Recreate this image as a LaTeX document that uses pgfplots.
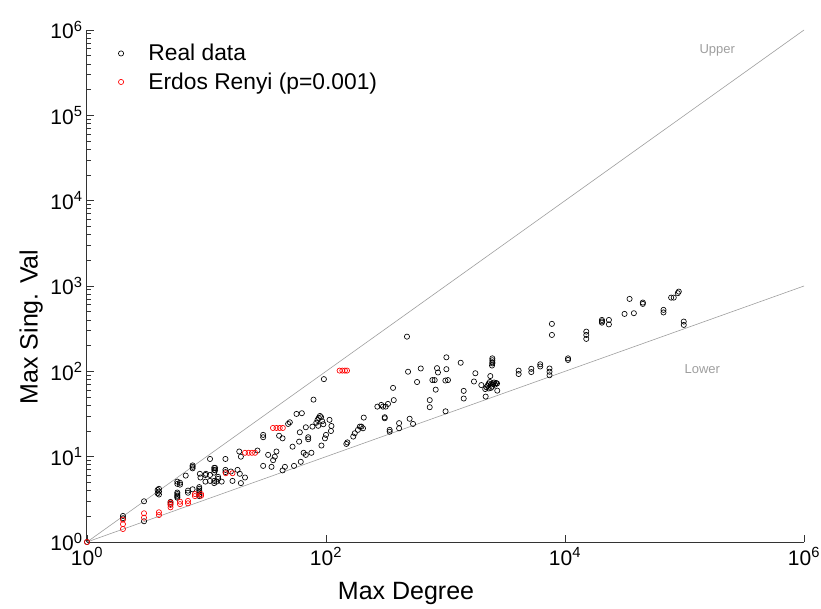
\documentclass[border=0pt]{standalone}
\usepackage{fontspec}
\setmainfont{Liberation Sans}
\usepackage{pgfplots}
\pgfplotsset{compat=1.18}

\definecolor{guide}{gray}{0.62}
\definecolor{axgray}{gray}{0.2}

% measured maximum degree vs. maximum singular value
\pgfplotstableread{
x y
1 1
2 2.02
2 1.9
3 3.0
3 1.75
4 4.2
4 3.9
4 3.6
3.9 4.07
3.9 3.72
5 2.95
5 2.8
5.7 5.1
5.7 4.8
6 4.95
6 4.7
5.7 3.8
5.7 3.65
5.7 3.5
5.7 3.4
5.7 3.3
7 4.0
7 3.78
6.7 6.0
7.65 7.9
7.65 7.6
7.65 7.3
7.65 4.15
8.7 4.4
8.7 4.2
8.7 4.0
8.7 3.8
8.7 3.6
8.7 3.45
8.8 6.3
8.9 5.7
9.9 6.3
9.8 6.1
9.8 5.1
10.7 9.4
10.7 6.1
10.7 5.2
11.6 7.4
11.6 7.0
11.6 6.5
11.6 5.2
11.6 4.9
11.8 7.4
11.8 6.9
12.5 5.8
12.5 5.5
12.1 5.1
13.4 5.1
14.4 9.4
14.4 7.0
14.4 6.6
16 6.7
16.5 5.2
18.2 7.0
19 6.3
21 5.7
19.4 4.9
18.8 11.5
19.4 10
26.7 11.8
29.8 18
29.8 16.9
29.8 7.8
32.8 10.5
35 7.6
36.1 9.1
37.3 10
38.5 11.5
40.5 17.6
43.3 16.4
43.3 6.9
45.3 7.6
48.2 24.2
49.8 25.3
52.5 13.1
54 7.8
56.6 31.7
62.8 32.3
59.6 15
60.4 19.3
61.5 8.7
65 11.1
67.8 10.5
67.8 22.1
71 16.9
71 16
75.5 11.1
77 22.5
78.6 46.6
83 25
85 27
87 28.5
89 30
91 29
93 26
95 24
86 23
91.6 13.5
96 81
98 16.4
100 18
107 27
110 20
111 22.9
148 14.1
151 14.7
169 17.2
174 18.8
185 20.6
192 22.5
198 22.5
204 21.5
207 28.7
269 38.6
290 40.4
300 38.6
316 38.6
330 41.5
310 28.2
310 29
341 20.6
341 19.6
364 64
369 46
409 24.7
409 21.5
501 27.8
535 24.2
476 255
486 99
621 108
578 75
738 46
738 38
777 79
812 79
828 61
849 109
865 97
998 78
1017 106
1049 79
1001 34
1017 146
1340 126
1420 59
1420 48
1778 95
1730 76
1995 69
2168 50.6
2371 88
2466 142
2466 135
2466 128
2450 117
2466 124
2150 62
2200 65
2250 68
2300 72
2350 75
2400 70
2450 66
2500 72
2550 74
2600 70
2650 73
2700 72
2300 63
2400 64
2710 59.4
4093 102
4093 93
5224 107
5224 98
6206 121
6206 114
7420 108
7420 99
7420 90
7770 360
7770 267
10600 142
10600 136
15070 292
15070 267
15070 240
20370 400
20370 385
20370 372
23300 400
23300 355
31500 471
37700 480
34700 706
44800 640
44800 617
66700 525
66700 490
77300 731
81300 731
87900 824
89600 860
98600 383
98600 350
}\realdata

% random graphs, G(n, p) with p = 0.001
\pgfplotstableread{
x y
1 1
2 1.42
2 1.62
2 1.83
3 2.17
3 1.93
4 2.23
4 2.07
5 2.9
5 2.72
5 2.55
6 2.97
6 2.78
7 3.03
7 2.84
8 3.65
8 3.45
9 3.65
9 3.48
14.5 6.4
16.5 6.4
21 11.1
22.5 11.1
24 11.1
25.5 11.1
36 21.7
38.5 21.7
41 21.7
43.5 21.7
130 102
137 102
144 102
150 102
}\erdosrenyi

\tikzset{tickc/.style={axgray, line width=0.9pt}}

\begin{document}
\begin{tikzpicture}
\useasboundingbox (-87pt,-66pt) rectangle (734pt,542pt);
\begin{axis}[
  at={(0pt,0pt)}, anchor=south west,
  scale only axis, width=717pt, height=512pt,
  xmode=log, ymode=log,
  xmin=1, xmax=1e6, ymin=1, ymax=1e6,
  clip=false,
  axis x line*=bottom, axis y line*=left,
  axis line style={axgray, line width=1pt},
  xtick pos=bottom, ytick pos=left,
  xtick align=inside, ytick align=inside,
  major tick style={axgray, line width=0.9pt},
  minor tick style={axgray, line width=0.8pt},
  major tick length=7pt, minor tick length=4.5pt,
  xtick={1,100,10000,1000000},
  xticklabels={10\textsuperscript{0},10\textsuperscript{2},10\textsuperscript{4},10\textsuperscript{6}},
  xminorticks=false,
  ytick={1,10,100,1000,10000,100000,1000000},
  yticklabels={10\textsuperscript{0},10\textsuperscript{1},10\textsuperscript{2},10\textsuperscript{3},10\textsuperscript{4},10\textsuperscript{5},10\textsuperscript{6}},
  yminorticks=false,
  tick label style={font=\fontsize{21}{21}\selectfont, text=black},
  xticklabel style={yshift=-2pt},
  yticklabel style={xshift=-1pt},
  xlabel={Max Degree},
  ylabel={Max Sing. Val},
  label style={font=\fontsize{25}{25}\selectfont},
  xlabel style={at={(axis description cs:0.445,-0.1)}, anchor=center},
  ylabel style={at={(axis description cs:-0.078,0.42)}, anchor=center},
  legend style={at={(axis description cs:0.037,0.98)}, anchor=north west,
    draw=none, fill=none, font=\fontsize{22.8}{22.8}\selectfont, row sep=6.5pt},
  legend cell align=left,
  legend image code/.code={\draw[#1] plot coordinates {(4pt,0pt)}; \path (0pt,0pt) (29pt,0pt);},
]
% reference bounds
\addplot[guide, line width=0.6pt, forget plot] coordinates {(1,1) (1000000,1000000)};
\addplot[guide, line width=0.6pt, forget plot] coordinates {(1,1) (1000000,1000)};
\node[text=guide, font=\fontsize{13}{13}\selectfont] at (axis cs:188000,570000) {Upper};
\node[text=guide, font=\fontsize{13}{13}\selectfont] at (axis cs:141000,107) {Lower};

% inward tick marks: decades on both axes, sub-decade steps on the y axis
\pgfplotsinvokeforeach{0,1,2,3,4,5}{
  \draw[tickc] (rel axis cs:0,{#1/6}) -- ++(7pt,0pt);
  \draw[tickc] (rel axis cs:0,{(#1+0.30103)/6}) -- ++(4.5pt,0pt);
  \draw[tickc] (rel axis cs:0,{(#1+0.47712)/6}) -- ++(4.5pt,0pt);
  \draw[tickc] (rel axis cs:0,{(#1+0.60206)/6}) -- ++(4.5pt,0pt);
  \draw[tickc] (rel axis cs:0,{(#1+0.69897)/6}) -- ++(4.5pt,0pt);
  \draw[tickc] (rel axis cs:0,{(#1+0.77815)/6}) -- ++(4.5pt,0pt);
  \draw[tickc] (rel axis cs:0,{(#1+0.84510)/6}) -- ++(4.5pt,0pt);
  \draw[tickc] (rel axis cs:0,{(#1+0.90309)/6}) -- ++(4.5pt,0pt);
  \draw[tickc] (rel axis cs:0,{(#1+0.95424)/6}) -- ++(4.5pt,0pt);
}
\draw[tickc] (rel axis cs:0,1) -- ++(7pt,0pt);
\pgfplotsinvokeforeach{1,2,3}{
  \draw[tickc] (rel axis cs:{#1/3},0) -- ++(0pt,7pt);
}

\addplot[only marks, mark=o, mark size=2.6pt, line width=0.65pt, black] table {\realdata};
\addlegendentry{Real data}
\addplot[only marks, mark=o, mark size=2.6pt, line width=0.65pt, red] table {\erdosrenyi};
\addlegendentry{Erdos Renyi (p=0.001)}
\end{axis}
\end{tikzpicture}
\end{document}
